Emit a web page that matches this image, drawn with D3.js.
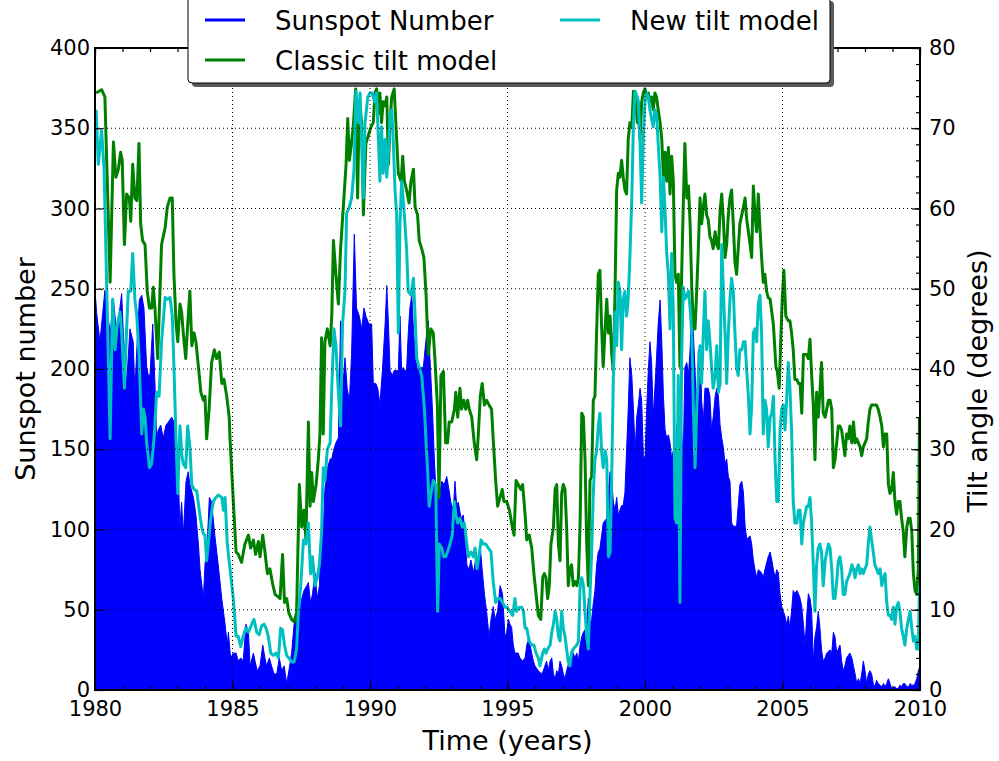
<!DOCTYPE html>
<html>
<head>
<meta charset="utf-8">
<script src="https://cdn.jsdelivr.net/npm/d3@7"></script>
<style>
  body { margin: 0; background: #fff; }
  svg { display: block; }
  text { font-family: "DejaVu Sans", sans-serif; fill: #000; }
</style>
</head>
<body>
<svg id="chart" width="999" height="761"></svg>
<script>
// Monthly sunspot number: [decimal year, value]
const sunspotNumber = [
  [1980.00,249],[1980.06,235],[1980.18,217],[1980.36,249],[1980.55,222],[1980.67,243],[1980.79,222],[1980.97,247],
  [1981.03,222],[1981.15,191],[1981.27,225],[1981.39,217],[1981.45,186],[1981.52,212],[1981.61,243],[1981.70,246],
  [1981.78,238],[1981.88,201],[1981.94,196],[1982.00,196],[1982.10,228],[1982.18,191],[1982.24,157],[1982.30,162],
  [1982.39,165],[1982.48,157],[1982.58,165],[1982.67,167],[1982.79,170],[1982.87,167],[1982.95,144],[1983.03,133],
  [1983.09,102],[1983.15,117],[1983.21,96],[1983.31,130],[1983.39,136],[1983.45,128],[1983.58,120],[1983.67,109],
  [1983.76,91],[1983.82,75],[1983.94,57],[1984.00,78],[1984.08,91],[1984.16,120],[1984.24,117],[1984.36,96],
  [1984.48,78],[1984.61,57],[1984.73,41],[1984.81,28],[1984.85,36],[1984.93,20],[1985.03,23],[1985.13,23],
  [1985.21,18],[1985.30,20],[1985.39,18],[1985.49,41],[1985.58,36],[1985.64,15],[1985.76,23],[1985.82,18],
  [1985.90,12],[1986.00,15],[1986.10,28],[1986.18,20],[1986.24,15],[1986.34,20],[1986.42,15],[1986.51,10],
  [1986.61,10],[1986.70,20],[1986.79,12],[1986.88,15],[1986.97,4],[1987.05,12],[1987.15,23],[1987.24,41],
  [1987.33,46],[1987.43,49],[1987.52,57],[1987.60,62],[1987.70,65],[1987.76,67],[1987.84,54],[1987.91,60],
  [1988.00,73],[1988.08,57],[1988.16,65],[1988.24,102],[1988.30,99],[1988.36,125],[1988.45,138],[1988.55,144],
  [1988.61,144],[1988.67,149],[1988.76,154],[1988.85,157],[1988.93,230],[1989.00,186],[1989.09,207],[1989.17,188],
  [1989.25,180],[1989.33,209],[1989.43,284],[1989.51,238],[1989.61,233],[1989.70,225],[1989.78,238],[1989.85,233],
  [1989.96,228],[1990.06,228],[1990.12,191],[1990.21,191],[1990.28,188],[1990.36,178],[1990.45,199],[1990.55,228],
  [1990.61,252],[1990.67,228],[1990.73,199],[1990.81,196],[1990.88,199],[1990.97,199],[1991.03,199],[1991.09,233],
  [1991.15,199],[1991.21,201],[1991.27,199],[1991.33,199],[1991.39,222],[1991.45,238],[1991.52,246],[1991.58,225],
  [1991.66,207],[1991.73,199],[1991.82,201],[1991.88,201],[1991.94,201],[1992.00,212],[1992.06,222],[1992.12,230],
  [1992.18,207],[1992.27,175],[1992.34,144],[1992.42,117],[1992.48,125],[1992.55,123],[1992.61,130],[1992.70,128],
  [1992.79,133],[1992.87,125],[1992.94,117],[1993.03,112],[1993.09,130],[1993.15,115],[1993.21,117],[1993.31,107],
  [1993.39,109],[1993.45,99],[1993.52,78],[1993.60,75],[1993.67,81],[1993.76,73],[1993.84,81],[1993.91,75],
  [1994.00,91],[1994.08,75],[1994.16,60],[1994.24,49],[1994.33,33],[1994.40,44],[1994.48,52],[1994.55,44],
  [1994.64,49],[1994.73,65],[1994.82,60],[1994.91,33],[1994.97,36],[1995.03,44],[1995.09,41],[1995.15,39],
  [1995.21,28],[1995.27,23],[1995.39,23],[1995.45,20],[1995.55,18],[1995.64,20],[1995.70,28],[1995.76,31],
  [1995.82,28],[1995.88,23],[1995.94,18],[1996.00,15],[1996.12,12],[1996.24,10],[1996.30,12],[1996.36,15],
  [1996.42,18],[1996.48,12],[1996.55,18],[1996.61,20],[1996.67,10],[1996.73,7],[1996.79,12],[1996.85,10],
  [1996.91,18],[1996.97,15],[1997.03,10],[1997.09,7],[1997.15,12],[1997.27,20],[1997.33,25],[1997.39,23],
  [1997.45,20],[1997.52,23],[1997.58,18],[1997.64,28],[1997.70,33],[1997.76,36],[1997.88,39],[1997.94,57],
  [1998.00,41],[1998.06,44],[1998.12,54],[1998.18,62],[1998.24,78],[1998.30,86],[1998.36,88],[1998.42,96],
  [1998.48,104],[1998.61,107],[1998.67,123],[1998.73,136],[1998.79,130],[1998.85,117],[1998.91,112],[1998.97,120],
  [1999.03,109],[1999.15,115],[1999.21,115],[1999.27,123],[1999.33,149],[1999.39,175],[1999.45,207],[1999.52,196],
  [1999.58,175],[1999.64,149],[1999.70,170],[1999.76,178],[1999.82,188],[1999.88,180],[1999.94,146],[2000.00,144],
  [2000.06,175],[2000.12,199],[2000.18,217],[2000.24,204],[2000.30,170],[2000.36,188],[2000.42,207],[2000.48,228],
  [2000.55,243],[2000.61,217],[2000.67,183],[2000.73,162],[2000.79,157],[2000.85,159],[2000.91,154],[2000.97,144],
  [2001.03,149],[2001.09,104],[2001.15,165],[2001.21,167],[2001.27,165],[2001.33,162],[2001.39,144],[2001.45,201],
  [2001.52,204],[2001.58,196],[2001.64,212],[2001.70,238],[2001.76,222],[2001.82,199],[2001.88,170],[2001.94,212],
  [2002.00,212],[2002.06,180],[2002.12,167],[2002.18,188],[2002.30,188],[2002.36,183],[2002.42,162],[2002.48,170],
  [2002.55,183],[2002.61,188],[2002.67,183],[2002.73,165],[2002.79,157],[2002.85,151],[2002.91,141],[2002.97,144],
  [2003.03,133],[2003.09,130],[2003.15,104],[2003.21,102],[2003.33,102],[2003.39,115],[2003.45,128],[2003.52,130],
  [2003.58,123],[2003.64,102],[2003.70,94],[2003.82,96],[2003.88,91],[2003.94,81],[2004.00,75],[2004.06,70],
  [2004.12,75],[2004.24,73],[2004.30,70],[2004.36,75],[2004.48,83],[2004.55,86],[2004.61,81],[2004.67,75],
  [2004.73,70],[2004.79,75],[2004.85,73],[2004.91,60],[2004.97,52],[2005.03,49],[2005.09,46],[2005.15,41],
  [2005.21,46],[2005.27,39],[2005.33,49],[2005.39,62],[2005.45,60],[2005.52,62],[2005.58,60],[2005.64,57],
  [2005.70,52],[2005.76,41],[2005.82,28],[2005.88,46],[2005.94,60],[2006.00,57],[2006.06,49],[2006.12,18],
  [2006.18,33],[2006.24,39],[2006.30,49],[2006.36,39],[2006.42,25],[2006.48,18],[2006.55,20],[2006.61,23],
  [2006.73,25],[2006.79,23],[2006.85,36],[2006.91,33],[2006.97,23],[2007.09,28],[2007.15,18],[2007.21,12],
  [2007.27,15],[2007.33,20],[2007.45,23],[2007.52,20],[2007.58,15],[2007.64,10],[2007.70,4],[2007.76,7],
  [2007.82,4],[2007.88,10],[2007.94,18],[2008.00,12],[2008.06,4],[2008.12,10],[2008.18,12],[2008.24,10],
  [2008.30,4],[2008.36,2],[2008.42,6],[2008.48,4],[2008.55,3],[2008.61,2],[2008.67,4],[2008.73,2],
  [2008.79,4],[2008.85,7],[2008.91,4],[2008.97,1],[2009.09,2],[2009.15,1],[2009.21,1],[2009.27,3],
  [2009.33,2],[2009.39,4],[2009.45,4],[2009.52,2],[2009.58,2],[2009.64,4],[2009.70,3],[2009.76,3],
  [2009.82,4],[2009.88,7],[2009.94,12],[2010.00,15]
];

// Classic tilt model, tilt angle in degrees: [decimal year, value]
const classicTilt = [
  [1980.04,74.4],[1980.24,74.8],[1980.36,73.9],[1980.55,50.8],[1980.67,68.3],[1980.76,63.9],[1980.85,64.9],[1980.93,67.0],
  [1980.99,66.0],[1981.07,55.5],[1981.15,61.8],[1981.25,61.3],[1981.30,58.4],[1981.37,65.5],[1981.45,61.3],[1981.52,61.0],
  [1981.60,68.1],[1981.66,58.1],[1981.73,56.0],[1981.82,55.5],[1981.90,49.7],[1981.98,47.6],[1982.06,47.6],[1982.12,50.2],
  [1982.18,47.6],[1982.28,41.3],[1982.42,55.5],[1982.55,57.6],[1982.63,60.2],[1982.73,61.3],[1982.81,61.3],[1982.87,51.8],
  [1982.95,45.5],[1983.01,43.4],[1983.09,48.1],[1983.15,47.1],[1983.21,44.5],[1983.30,41.3],[1983.37,45.5],[1983.45,49.7],
  [1983.52,42.9],[1983.60,44.5],[1983.67,43.4],[1983.76,40.3],[1983.85,37.1],[1983.94,36.1],[1984.00,36.6],[1984.06,31.3],
  [1984.15,35.0],[1984.24,40.8],[1984.34,42.4],[1984.42,41.3],[1984.52,42.1],[1984.61,38.2],[1984.69,38.7],[1984.79,36.6],
  [1984.88,34.0],[1984.91,31.3],[1985.03,23.5],[1985.13,17.2],[1985.21,16.9],[1985.33,15.9],[1985.45,18.2],[1985.58,19.3],
  [1985.66,17.7],[1985.76,18.7],[1985.84,16.9],[1985.94,18.5],[1986.00,16.6],[1986.10,19.3],[1986.18,17.2],[1986.27,14.5],
  [1986.36,15.1],[1986.46,13.2],[1986.55,11.9],[1986.63,11.7],[1986.73,11.4],[1986.82,16.9],[1986.89,10.9],[1986.97,11.4],
  [1987.05,9.6],[1987.15,8.8],[1987.24,8.5],[1987.33,9.6],[1987.43,25.6],[1987.52,20.3],[1987.60,22.4],[1987.67,18.7],
  [1987.76,33.4],[1987.82,22.9],[1987.88,27.1],[1987.94,23.5],[1988.04,25.6],[1988.12,28.7],[1988.18,31.9],[1988.24,43.9],
  [1988.30,31.9],[1988.36,43.4],[1988.45,45.0],[1988.55,42.9],[1988.61,46.6],[1988.67,56.0],[1988.76,51.8],[1988.85,48.1],
  [1988.93,55.0],[1989.03,60.2],[1989.13,65.5],[1989.19,71.2],[1989.25,66.0],[1989.31,67.6],[1989.39,70.2],[1989.48,74.9],
  [1989.55,61.3],[1989.61,73.3],[1989.70,70.7],[1989.76,59.2],[1989.85,68.1],[1989.94,69.1],[1990.04,70.2],[1990.12,70.7],
  [1990.18,74.4],[1990.24,74.9],[1990.30,71.8],[1990.36,74.4],[1990.42,70.7],[1990.48,73.3],[1990.55,72.8],[1990.61,73.9],
  [1990.67,65.5],[1990.73,70.7],[1990.79,73.9],[1990.88,74.9],[1990.97,68.6],[1991.03,64.4],[1991.13,63.4],[1991.19,66.5],
  [1991.25,63.4],[1991.33,62.3],[1991.42,60.7],[1991.49,63.4],[1991.58,64.9],[1991.64,60.2],[1991.73,59.2],[1991.79,56.0],
  [1991.88,55.0],[1991.96,53.9],[1992.04,49.2],[1992.12,41.8],[1992.21,45.0],[1992.30,44.5],[1992.36,41.3],[1992.45,35.5],
  [1992.51,24.0],[1992.58,39.2],[1992.67,39.7],[1992.75,30.8],[1992.82,30.8],[1992.88,33.4],[1992.97,33.4],[1993.07,35.0],
  [1993.12,37.1],[1993.19,34.0],[1993.27,37.6],[1993.33,35.0],[1993.41,36.1],[1993.48,35.0],[1993.55,36.1],[1993.61,35.0],
  [1993.70,34.0],[1993.79,30.8],[1993.88,28.7],[1993.94,31.9],[1994.01,36.6],[1994.08,38.2],[1994.16,35.5],[1994.24,36.1],
  [1994.33,35.5],[1994.42,35.0],[1994.48,31.3],[1994.57,26.1],[1994.64,22.9],[1994.73,24.0],[1994.81,25.0],[1994.87,23.5],
  [1994.97,23.5],[1995.07,22.4],[1995.15,20.8],[1995.24,19.3],[1995.31,26.1],[1995.39,25.6],[1995.48,25.0],[1995.55,25.6],
  [1995.64,21.9],[1995.70,18.7],[1995.79,19.3],[1995.88,17.7],[1995.96,14.5],[1996.04,11.9],[1996.12,9.3],[1996.21,8.8],
  [1996.28,14.0],[1996.34,14.5],[1996.40,14.0],[1996.46,11.4],[1996.52,13.0],[1996.58,18.2],[1996.67,20.3],[1996.73,25.0],
  [1996.79,25.6],[1996.85,18.2],[1996.91,16.1],[1996.97,24.5],[1997.03,25.6],[1997.09,25.0],[1997.15,20.3],[1997.21,13.0],
  [1997.27,15.1],[1997.33,15.6],[1997.39,13.0],[1997.45,13.5],[1997.52,13.0],[1997.58,14.0],[1997.64,20.8],[1997.70,34.5],
  [1997.76,34.0],[1997.82,28.7],[1997.88,18.2],[1997.94,13.0],[1998.00,26.1],[1998.06,26.6],[1998.12,36.1],[1998.18,36.6],
  [1998.24,44.5],[1998.30,51.8],[1998.36,52.3],[1998.42,45.5],[1998.48,40.3],[1998.55,45.0],[1998.61,48.7],[1998.67,44.5],
  [1998.73,46.6],[1998.79,41.8],[1998.85,39.7],[1998.91,49.7],[1998.97,62.3],[1999.03,64.4],[1999.09,63.9],[1999.15,66.0],
  [1999.21,63.9],[1999.27,62.3],[1999.33,61.8],[1999.39,68.6],[1999.45,70.7],[1999.52,70.2],[1999.58,74.6],[1999.64,74.4],
  [1999.72,70.7],[1999.76,71.8],[1999.82,68.6],[1999.88,73.3],[1999.94,74.4],[2000.00,74.9],[2000.06,73.9],[2000.12,74.4],
  [2000.18,73.3],[2000.24,73.9],[2000.30,72.3],[2000.36,74.4],[2000.42,73.9],[2000.48,72.3],[2000.55,70.7],[2000.61,68.6],
  [2000.67,63.9],[2000.73,67.0],[2000.79,63.4],[2000.85,67.6],[2000.91,61.8],[2000.97,66.5],[2001.03,63.4],[2001.09,51.8],
  [2001.15,50.8],[2001.21,51.8],[2001.27,40.3],[2001.33,51.3],[2001.39,60.2],[2001.45,68.1],[2001.52,61.3],[2001.58,62.8],
  [2001.64,58.1],[2001.70,50.2],[2001.76,45.5],[2001.82,45.0],[2001.88,49.7],[2001.94,55.0],[2002.00,61.3],[2002.06,58.1],
  [2002.12,60.2],[2002.18,61.8],[2002.24,59.2],[2002.30,58.6],[2002.36,56.5],[2002.42,56.0],[2002.48,55.0],[2002.55,57.1],
  [2002.61,55.5],[2002.67,55.0],[2002.73,59.7],[2002.79,61.8],[2002.85,58.6],[2002.91,53.9],[2002.97,55.5],[2003.03,59.2],
  [2003.09,61.3],[2003.15,62.3],[2003.21,58.1],[2003.27,53.4],[2003.33,51.8],[2003.39,55.0],[2003.45,58.1],[2003.52,59.2],
  [2003.58,60.2],[2003.64,61.3],[2003.70,58.6],[2003.76,57.1],[2003.82,55.5],[2003.88,53.9],[2003.94,62.8],[2004.00,59.2],
  [2004.06,57.1],[2004.12,61.8],[2004.18,57.6],[2004.24,53.9],[2004.30,50.8],[2004.36,51.8],[2004.42,49.7],[2004.48,48.9],
  [2004.55,48.7],[2004.61,47.1],[2004.67,45.5],[2004.76,40.3],[2004.81,39.7],[2004.88,37.6],[2004.93,42.9],[2004.99,48.7],
  [2005.05,52.3],[2005.12,46.6],[2005.21,46.0],[2005.27,46.0],[2005.33,44.5],[2005.39,42.4],[2005.45,38.7],[2005.52,38.7],
  [2005.58,38.2],[2005.64,38.2],[2005.70,34.5],[2005.76,41.8],[2005.82,41.8],[2005.88,41.8],[2005.94,41.3],[2006.00,43.7],
  [2006.06,39.2],[2006.12,35.5],[2006.18,28.7],[2006.24,37.1],[2006.30,34.0],[2006.36,37.1],[2006.42,40.8],[2006.48,34.5],
  [2006.55,34.0],[2006.61,35.0],[2006.67,36.1],[2006.73,36.1],[2006.79,35.0],[2006.85,27.7],[2006.91,28.7],[2006.97,30.8],
  [2007.03,32.9],[2007.09,32.9],[2007.15,32.4],[2007.21,30.8],[2007.27,29.2],[2007.33,31.9],[2007.39,31.3],[2007.45,32.9],
  [2007.52,30.8],[2007.58,33.4],[2007.64,30.8],[2007.70,31.3],[2007.76,30.8],[2007.82,30.3],[2007.88,29.2],[2007.94,30.3],
  [2008.00,30.8],[2008.06,31.3],[2008.12,33.4],[2008.18,35.0],[2008.24,35.5],[2008.30,35.5],[2008.42,35.5],[2008.48,35.0],
  [2008.55,34.0],[2008.61,32.9],[2008.67,30.3],[2008.73,31.9],[2008.79,31.9],[2008.85,25.6],[2008.91,24.5],[2008.97,25.0],
  [2009.03,27.1],[2009.09,23.5],[2009.15,21.9],[2009.21,23.5],[2009.27,23.5],[2009.33,21.4],[2009.39,19.8],[2009.45,16.6],
  [2009.52,20.3],[2009.58,21.4],[2009.64,21.4],[2009.70,19.8],[2009.76,14.5],[2009.82,12.4],[2009.88,11.9],[2009.94,15.1],
  [2009.98,34.0]
];

// New tilt model, tilt angle in degrees: [decimal year, value]
const newTilt = [
  [1980.04,72.3],[1980.12,65.5],[1980.24,69.7],[1980.33,64.9],[1980.55,31.3],[1980.64,48.7],[1980.73,42.4],[1980.81,45.5],
  [1980.91,47.1],[1980.97,44.5],[1981.07,37.6],[1981.15,45.0],[1981.21,49.7],[1981.30,49.7],[1981.37,54.4],[1981.45,48.7],
  [1981.52,46.6],[1981.60,41.8],[1981.70,31.9],[1981.76,35.0],[1981.82,34.0],[1981.88,30.8],[1981.98,27.7],[1982.06,28.2],
  [1982.16,31.9],[1982.24,37.1],[1982.33,36.6],[1982.42,43.4],[1982.55,48.9],[1982.63,48.7],[1982.73,48.9],[1982.81,46.6],
  [1982.87,40.3],[1982.95,30.8],[1983.01,24.5],[1983.09,32.9],[1983.16,29.2],[1983.21,28.2],[1983.30,27.7],[1983.37,32.9],
  [1983.45,30.3],[1983.52,25.6],[1983.60,25.0],[1983.70,24.8],[1983.79,22.4],[1983.88,20.3],[1983.94,19.5],[1984.00,19.3],
  [1984.06,16.1],[1984.12,18.2],[1984.21,21.4],[1984.30,23.5],[1984.40,24.0],[1984.48,24.3],[1984.61,24.0],[1984.67,22.4],
  [1984.73,24.0],[1984.81,18.2],[1984.91,15.1],[1985.03,11.4],[1985.13,6.7],[1985.21,6.7],[1985.30,5.4],[1985.39,6.7],
  [1985.48,7.7],[1985.58,7.2],[1985.70,8.2],[1985.78,8.8],[1985.88,7.2],[1985.97,6.9],[1986.06,8.0],[1986.15,8.2],
  [1986.22,7.7],[1986.30,6.7],[1986.39,4.6],[1986.48,4.3],[1986.58,4.6],[1986.67,4.0],[1986.75,7.7],[1986.82,7.5],
  [1986.89,5.6],[1986.97,4.3],[1987.05,4.0],[1987.15,3.5],[1987.24,3.5],[1987.33,5.1],[1987.39,9.3],[1987.48,13.0],
  [1987.58,18.7],[1987.67,18.2],[1987.76,20.8],[1987.84,14.5],[1987.91,16.6],[1988.00,13.0],[1988.08,14.0],[1988.16,15.6],
  [1988.24,19.8],[1988.30,27.7],[1988.36,26.1],[1988.45,30.0],[1988.55,30.8],[1988.61,37.6],[1988.69,45.0],[1988.76,42.9],
  [1988.85,37.1],[1988.93,32.9],[1989.00,45.5],[1989.09,49.7],[1989.15,59.4],[1989.25,60.2],[1989.33,61.3],[1989.42,64.9],
  [1989.49,74.6],[1989.58,70.7],[1989.64,74.4],[1989.76,61.3],[1989.82,70.7],[1989.92,73.9],[1990.00,74.4],[1990.08,74.4],
  [1990.16,73.3],[1990.24,74.4],[1990.30,69.1],[1990.36,63.4],[1990.42,70.2],[1990.48,64.4],[1990.55,68.6],[1990.61,63.9],
  [1990.67,67.0],[1990.73,71.8],[1990.79,72.3],[1990.85,68.1],[1990.91,62.3],[1990.97,59.2],[1991.03,44.5],[1991.09,58.1],
  [1991.15,63.4],[1991.25,59.2],[1991.33,55.0],[1991.39,49.7],[1991.49,49.2],[1991.58,51.3],[1991.64,46.6],[1991.70,41.3],
  [1991.78,40.3],[1991.88,39.2],[1991.98,35.0],[1992.04,30.8],[1992.10,27.1],[1992.15,22.9],[1992.22,24.5],[1992.30,26.1],
  [1992.39,25.6],[1992.46,9.8],[1992.52,18.2],[1992.61,17.7],[1992.68,16.6],[1992.75,16.6],[1992.82,17.2],[1992.91,18.2],
  [1992.99,19.3],[1993.07,23.5],[1993.12,21.9],[1993.19,20.8],[1993.27,21.4],[1993.36,20.3],[1993.43,20.8],[1993.52,18.2],
  [1993.58,16.6],[1993.67,17.2],[1993.76,16.6],[1993.82,17.7],[1993.89,15.1],[1993.96,16.6],[1994.04,18.7],[1994.12,18.2],
  [1994.21,18.2],[1994.30,17.7],[1994.40,17.2],[1994.48,13.5],[1994.57,10.9],[1994.64,11.4],[1994.73,11.4],[1994.82,10.9],
  [1994.91,10.3],[1994.99,10.3],[1995.09,9.8],[1995.19,9.3],[1995.27,11.4],[1995.33,9.8],[1995.43,10.3],[1995.52,10.3],
  [1995.58,9.8],[1995.64,7.7],[1995.70,7.7],[1995.79,6.1],[1995.88,5.6],[1995.96,5.6],[1996.04,4.6],[1996.12,4.0],
  [1996.18,3.0],[1996.28,4.6],[1996.34,5.1],[1996.40,4.6],[1996.46,5.1],[1996.55,5.6],[1996.61,7.2],[1996.67,8.2],
  [1996.73,9.8],[1996.79,8.8],[1996.85,6.7],[1996.91,6.1],[1996.97,9.8],[1997.03,7.7],[1997.09,6.7],[1997.15,5.1],
  [1997.21,3.5],[1997.27,3.0],[1997.33,4.6],[1997.39,5.1],[1997.52,5.6],[1997.58,6.1],[1997.64,13.0],[1997.70,14.0],
  [1997.76,13.0],[1997.82,9.8],[1997.88,6.7],[1997.94,5.1],[1998.00,11.9],[1998.06,17.2],[1998.12,24.5],[1998.18,28.7],
  [1998.24,29.8],[1998.30,32.9],[1998.36,34.5],[1998.42,29.8],[1998.48,27.7],[1998.55,29.8],[1998.61,28.7],[1998.67,16.6],
  [1998.73,17.2],[1998.79,26.6],[1998.85,39.2],[1998.91,47.1],[1998.97,42.9],[1999.03,50.8],[1999.09,49.7],[1999.15,42.4],
  [1999.21,48.7],[1999.27,49.7],[1999.33,46.6],[1999.39,48.7],[1999.45,53.9],[1999.52,61.3],[1999.58,70.7],[1999.64,74.6],
  [1999.72,73.9],[1999.76,73.3],[1999.82,68.1],[1999.88,60.7],[1999.94,69.1],[2000.00,73.3],[2000.06,74.4],[2000.12,73.9],
  [2000.18,72.3],[2000.24,71.2],[2000.30,70.2],[2000.36,72.3],[2000.42,71.8],[2000.48,68.1],[2000.55,63.9],[2000.61,57.1],
  [2000.67,63.9],[2000.73,59.7],[2000.79,54.4],[2000.85,51.8],[2000.91,45.0],[2000.97,54.4],[2001.03,47.1],[2001.09,21.4],
  [2001.15,20.8],[2001.21,39.2],[2001.27,10.9],[2001.33,40.8],[2001.39,50.2],[2001.45,48.7],[2001.52,49.2],[2001.58,49.7],
  [2001.64,47.6],[2001.70,44.5],[2001.76,35.0],[2001.82,27.7],[2001.88,35.0],[2001.94,39.2],[2002.00,42.9],[2002.06,38.2],
  [2002.12,44.5],[2002.18,49.7],[2002.24,42.4],[2002.30,46.0],[2002.36,43.4],[2002.42,40.3],[2002.48,37.6],[2002.55,39.2],
  [2002.61,42.9],[2002.67,37.1],[2002.73,38.2],[2002.79,55.5],[2002.85,49.7],[2002.91,44.5],[2002.97,38.2],[2003.03,44.5],
  [2003.09,48.7],[2003.15,51.3],[2003.21,49.7],[2003.27,44.5],[2003.33,40.3],[2003.39,39.2],[2003.45,42.4],[2003.52,42.4],
  [2003.58,43.4],[2003.64,43.4],[2003.70,39.7],[2003.76,36.6],[2003.82,31.9],[2003.88,35.5],[2003.94,44.5],[2004.00,45.0],
  [2004.06,43.4],[2004.12,48.1],[2004.18,49.2],[2004.24,44.5],[2004.30,31.9],[2004.36,36.1],[2004.42,35.0],[2004.48,30.3],
  [2004.55,34.0],[2004.61,34.5],[2004.67,36.6],[2004.73,28.7],[2004.79,23.5],[2004.85,23.5],[2004.91,32.4],[2004.97,35.0],
  [2005.03,35.5],[2005.09,32.4],[2005.15,36.1],[2005.21,40.8],[2005.27,37.6],[2005.33,32.4],[2005.39,23.5],[2005.45,20.8],
  [2005.52,20.8],[2005.58,22.4],[2005.64,22.4],[2005.70,18.2],[2005.76,20.8],[2005.82,21.9],[2005.88,22.9],[2005.94,22.9],
  [2006.00,24.0],[2006.06,20.8],[2006.12,15.6],[2006.18,9.8],[2006.24,15.6],[2006.30,17.7],[2006.36,18.2],[2006.42,17.2],
  [2006.48,13.0],[2006.55,16.1],[2006.61,17.2],[2006.67,18.2],[2006.73,17.7],[2006.79,15.1],[2006.85,11.4],[2006.91,11.4],
  [2006.97,13.5],[2007.03,16.1],[2007.09,16.6],[2007.15,15.1],[2007.21,11.9],[2007.27,11.9],[2007.33,13.5],[2007.39,14.0],
  [2007.45,14.5],[2007.52,15.6],[2007.58,15.1],[2007.64,14.0],[2007.70,15.1],[2007.76,15.6],[2007.82,14.5],[2007.88,15.1],
  [2007.94,14.5],[2008.00,15.1],[2008.06,15.6],[2008.12,18.2],[2008.18,20.3],[2008.24,18.7],[2008.30,17.2],[2008.36,15.6],
  [2008.42,15.1],[2008.48,14.5],[2008.55,15.1],[2008.61,13.0],[2008.67,14.0],[2008.73,14.5],[2008.79,10.9],[2008.85,9.3],
  [2008.91,9.3],[2008.97,8.8],[2009.03,10.3],[2009.09,8.2],[2009.15,10.3],[2009.21,10.9],[2009.27,9.8],[2009.33,7.7],
  [2009.39,6.7],[2009.45,5.6],[2009.52,7.7],[2009.58,8.8],[2009.64,9.8],[2009.70,7.7],[2009.76,6.1],[2009.82,6.7],
  [2009.88,5.1],[2009.94,5.1],[2009.98,13.0]
];

// Axis ticks and labels
const yearMajorTicks = [1980, 1985, 1990, 1995, 2000, 2005, 2010];
const yearMinorTicks = d3.range(1980, 2011, 1);
const sunspotTicks = [0, 50, 100, 150, 200, 250, 300, 350, 400];
const tiltTicks = [0, 10, 20, 30, 40, 50, 60, 70, 80];
const tiltMinorTicks = d3.range(0, 81, 2);
const legendItems = [
  { label: "Sunspot Number", color: "#0000ff", col: 0, row: 0 },
  { label: "Classic tilt model", color: "#008000", col: 0, row: 1 },
  { label: "New tilt model", color: "#00bfbf", col: 1, row: 0 }
];

const svg = d3.select("#chart");
const margin = { left: 95, right: 920, top: 48, bottom: 690 };

const x = d3.scaleLinear().domain([1980, 2010]).range([margin.left, margin.right]);
const ySun = d3.scaleLinear().domain([0, 400]).range([margin.bottom, margin.top]);
const yTilt = d3.scaleLinear().domain([0, 80]).range([margin.bottom, margin.top]);

svg.append("defs").append("clipPath").attr("id", "plotClip")
  .append("rect")
  .attr("x", margin.left).attr("y", margin.top)
  .attr("width", margin.right - margin.left).attr("height", margin.bottom - margin.top);

const plot = svg.append("g").attr("clip-path", "url(#plotClip)");

// Sunspot number as a filled area down to zero
plot.append("path")
  .datum(sunspotNumber)
  .attr("fill", "#0000ff")
  .attr("stroke", "#0000ff")
  .attr("stroke-width", 1)
  .attr("d", d3.area().x(d => x(d[0])).y0(ySun(0)).y1(d => ySun(d[1])));

// Dotted grid
const grid = svg.append("g").attr("stroke", "#000").attr("stroke-width", 1)
  .attr("stroke-dasharray", "1,3");
grid.selectAll(".gx").data(yearMajorTicks.slice(1, -1)).join("line")
  .attr("x1", d => x(d)).attr("x2", d => x(d))
  .attr("y1", margin.top).attr("y2", margin.bottom);
grid.selectAll(".gy").data(sunspotTicks.slice(1, -1)).join("line")
  .attr("x1", margin.left).attr("x2", margin.right)
  .attr("y1", d => ySun(d)).attr("y2", d => ySun(d));

// Tilt angle models
const tiltLine = d3.line().x(d => x(d[0])).y(d => yTilt(d[1]));
plot.append("path").datum(classicTilt)
  .attr("fill", "none").attr("stroke", "#008000").attr("stroke-width", 3)
  .attr("stroke-linejoin", "round").attr("d", tiltLine);
plot.append("path").datum(newTilt)
  .attr("fill", "none").attr("stroke", "#00bfbf").attr("stroke-width", 3)
  .attr("stroke-linejoin", "round").attr("d", tiltLine);

// Axes with inward ticks
function styleAxis(g) {
  g.select(".domain").remove();
  g.selectAll(".tick line").attr("stroke", "#000").attr("stroke-width", 1.2);
  g.selectAll(".tick text").attr("font-family", "DejaVu Sans").attr("font-size", 21).attr("fill", "#000");
}
const fmt = d3.format("d");

svg.append("g").attr("transform", `translate(0,${margin.bottom})`)
  .call(d3.axisBottom(x).tickValues(yearMinorTicks).tickSize(-4).tickFormat(""))
  .call(styleAxis);
svg.append("g").attr("transform", `translate(0,${margin.bottom})`)
  .call(d3.axisBottom(x).tickValues(yearMajorTicks).tickSize(-8).tickPadding(11).tickFormat(fmt))
  .call(styleAxis);
svg.append("g").attr("transform", `translate(0,${margin.top})`)
  .call(d3.axisTop(x).tickValues(yearMinorTicks).tickSize(-4).tickFormat(""))
  .call(styleAxis);
svg.append("g").attr("transform", `translate(0,${margin.top})`)
  .call(d3.axisTop(x).tickValues(yearMajorTicks).tickSize(-8).tickFormat(""))
  .call(styleAxis);
svg.append("g").attr("transform", `translate(${margin.left},0)`)
  .call(d3.axisLeft(ySun).tickValues(sunspotTicks).tickSize(-8).tickPadding(5).tickFormat(fmt))
  .call(styleAxis);
svg.append("g").attr("transform", `translate(${margin.right},0)`)
  .call(d3.axisRight(yTilt).tickValues(tiltMinorTicks).tickSize(-4).tickFormat(""))
  .call(styleAxis);
svg.append("g").attr("transform", `translate(${margin.right},0)`)
  .call(d3.axisRight(yTilt).tickValues(tiltTicks).tickSize(-8).tickPadding(9).tickFormat(fmt))
  .call(styleAxis);

// Frame
svg.append("rect")
  .attr("x", margin.left).attr("y", margin.top)
  .attr("width", margin.right - margin.left).attr("height", margin.bottom - margin.top)
  .attr("fill", "none").attr("stroke", "#000").attr("stroke-width", 2);

// Axis titles
svg.append("text").attr("x", (margin.left + margin.right) / 2).attr("y", 750)
  .attr("text-anchor", "middle").attr("font-size", 27).text("Time (years)");
svg.append("text").attr("transform", `translate(35,${(margin.top + margin.bottom) / 2}) rotate(-90)`)
  .attr("text-anchor", "middle").attr("font-size", 27).text("Sunspot number");
svg.append("text").attr("transform", `translate(987,${(margin.top + margin.bottom) / 2 + 12}) rotate(-90)`)
  .attr("text-anchor", "middle").attr("font-size", 27).text("Tilt angle (degrees)");

// Legend with drop shadow
const legend = svg.append("g");
const lb = { x: 188, y: -3, w: 642, h: 86 };
legend.append("rect").attr("x", lb.x + 4).attr("y", lb.y + 4).attr("width", lb.w).attr("height", lb.h)
  .attr("rx", 4).attr("fill", "#5a5a5a");
legend.append("rect").attr("x", lb.x).attr("y", lb.y).attr("width", lb.w).attr("height", lb.h)
  .attr("rx", 4).attr("fill", "#fff").attr("stroke", "#000").attr("stroke-width", 1);
const colX = [205, 560];
const rowY = [20, 60];
const items = legend.selectAll(".item").data(legendItems).join("g");
items.append("line")
  .attr("x1", d => colX[d.col]).attr("x2", d => colX[d.col] + 40)
  .attr("y1", d => rowY[d.row]).attr("y2", d => rowY[d.row])
  .attr("stroke", d => d.color).attr("stroke-width", 3);
items.append("text")
  .attr("x", d => colX[d.col] + 70).attr("y", d => rowY[d.row] + 10)
  .attr("font-size", 26).text(d => d.label);
</script>
</body>
</html>
